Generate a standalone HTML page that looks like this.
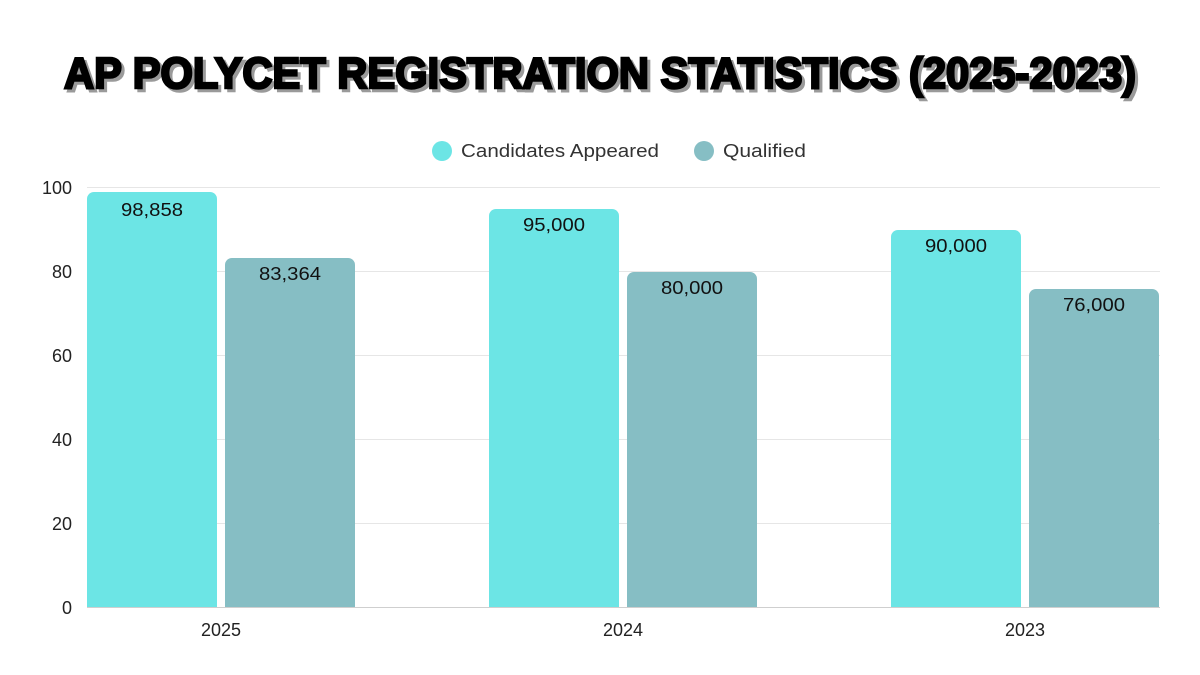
<!DOCTYPE html>
<html><head><meta charset="utf-8"><style>
html,body{margin:0;padding:0;background:#fff;}
svg{display:block;}
</style></head><body>
<svg width="1200" height="675" viewBox="0 0 1200 675" font-family="'Liberation Sans', sans-serif">
<rect width="1200" height="675" fill="#fff"/>
<text x="603" y="91" text-anchor="middle" font-size="44" font-weight="900" fill="#9a9a9a" textLength="1072" lengthAdjust="spacingAndGlyphs" stroke="#9a9a9a" stroke-width="2.5">AP POLYCET REGISTRATION STATISTICS (2025-2023)</text>
<text x="600" y="88" text-anchor="middle" font-size="44" font-weight="900" fill="#000" textLength="1072" lengthAdjust="spacingAndGlyphs" stroke="#000" stroke-width="2.5">AP POLYCET REGISTRATION STATISTICS (2025-2023)</text>
<circle cx="442" cy="151" r="10" fill="#6ce5e5"/>
<text x="461" y="157" font-size="18" fill="#333" textLength="198" lengthAdjust="spacingAndGlyphs">Candidates Appeared</text>
<circle cx="704" cy="151" r="10" fill="#86bec4"/>
<text x="723" y="157" font-size="18" fill="#333" textLength="83" lengthAdjust="spacingAndGlyphs">Qualified</text>
<g stroke="#e6e6e6" stroke-width="1">
<line x1="87" x2="1160" y1="187.5" y2="187.5"/>
<line x1="87" x2="1160" y1="271.5" y2="271.5"/>
<line x1="87" x2="1160" y1="355.5" y2="355.5"/>
<line x1="87" x2="1160" y1="439.5" y2="439.5"/>
<line x1="87" x2="1160" y1="523.5" y2="523.5"/>
</g>
<g font-size="18" fill="#222" text-anchor="end">
<text x="72" y="194">100</text><text x="72" y="278">80</text><text x="72" y="362">60</text>
<text x="72" y="446">40</text><text x="72" y="530">20</text><text x="72" y="614">0</text>
</g>
<g>
<path d="M87,607V199a7,7 0 0 1 7,-7H210a7,7 0 0 1 7,7V607Z" fill="#6ce5e5"/>
<path d="M225,607V265a7,7 0 0 1 7,-7H348a7,7 0 0 1 7,7V607Z" fill="#86bec4"/>
<path d="M489,607V216a7,7 0 0 1 7,-7H612a7,7 0 0 1 7,7V607Z" fill="#6ce5e5"/>
<path d="M627,607V279a7,7 0 0 1 7,-7H750a7,7 0 0 1 7,7V607Z" fill="#86bec4"/>
<path d="M891,607V237a7,7 0 0 1 7,-7H1014a7,7 0 0 1 7,7V607Z" fill="#6ce5e5"/>
<path d="M1029,607V296a7,7 0 0 1 7,-7H1152a7,7 0 0 1 7,7V607Z" fill="#86bec4"/>
</g>
<line x1="87" x2="1160" y1="607.5" y2="607.5" stroke="#cfcfcf"/>
<g font-size="18" fill="#111" text-anchor="middle">
<text x="152" y="216" textLength="62" lengthAdjust="spacingAndGlyphs">98,858</text><text x="290" y="280" textLength="62" lengthAdjust="spacingAndGlyphs">83,364</text>
<text x="554" y="231" textLength="62" lengthAdjust="spacingAndGlyphs">95,000</text><text x="692" y="294" textLength="62" lengthAdjust="spacingAndGlyphs">80,000</text>
<text x="956" y="252" textLength="62" lengthAdjust="spacingAndGlyphs">90,000</text><text x="1094" y="311" textLength="62" lengthAdjust="spacingAndGlyphs">76,000</text>
</g>
<g font-size="18" fill="#222" text-anchor="middle">
<text x="221" y="636">2025</text><text x="623" y="636">2024</text><text x="1025" y="636">2023</text>
</g>
</svg>
</body></html>
